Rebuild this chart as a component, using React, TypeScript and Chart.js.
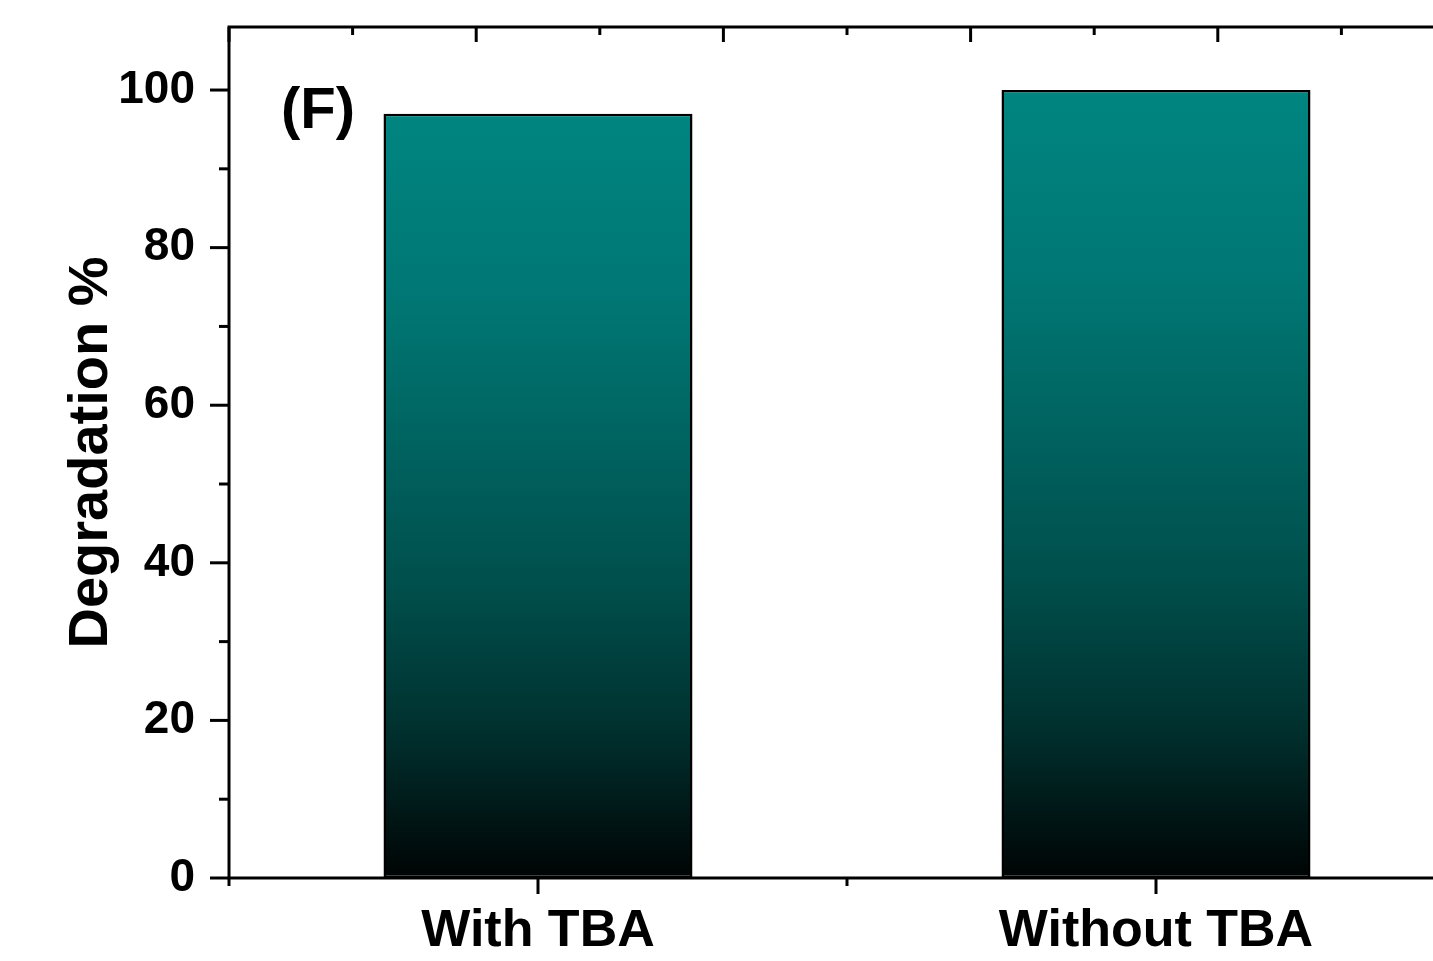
import React, { useEffect, useRef } from "react";
import { Chart, registerables } from "chart.js";

Chart.register(...registerables);

// ---- data ----
const CATEGORIES = ["With TBA", "Without TBA"];
const DEGRADATION = [97, 100];
const Y_TICKS = [0, 20, 40, 60, 80, 100];
const Y_MINOR_TICKS = [10, 30, 50, 70, 90];
const Y_MIN = 0;
const Y_MAX = 108;
// top (mirror) axis: 5 equal major intervals with one minor tick in each
const TOP_DIVISIONS = 5;
const PANEL_LABEL = "(F)";
const Y_TITLE = "Degradation %";

const FONT = "'Liberation Sans', Arial, Helvetica, sans-serif";

// teal-to-black vertical fill, stretched over each bar
const GRADIENT_STOPS: [number, string][] = [
  [0, "#008581"],
  [0.24, "#007774"],
  [0.62, "#004f4c"],
  [0.81, "#00302e"],
  [1, "#000404"],
];

const framePlugin = {
  id: "originFrame",
  afterDatasetsDraw(chart: any) {
    const { ctx, chartArea: a, scales } = chart;
    const y = scales.y;
    const x = scales.x;
    ctx.save();
    ctx.strokeStyle = "#000";
    ctx.lineWidth = 3;
    ctx.lineCap = "butt";

    const seg = (x0: number, y0: number, x1: number, y1: number) => {
      ctx.beginPath();
      ctx.moveTo(x0, y0);
      ctx.lineTo(x1, y1);
      ctx.stroke();
    };

    // box
    ctx.beginPath();
    ctx.rect(a.left, a.top, a.right - a.left, a.bottom - a.top);
    ctx.stroke();

    // left axis ticks (outward)
    Y_TICKS.forEach((v) => {
      const p = y.getPixelForValue(v);
      seg(a.left - 19, p, a.left, p);
    });
    Y_MINOR_TICKS.forEach((v) => {
      const p = y.getPixelForValue(v);
      seg(a.left - 10, p, a.left, p);
    });

    // bottom axis ticks (outward): majors at categories, minors at boundaries
    CATEGORIES.forEach((_, i) => {
      const p = x.getPixelForValue(i);
      seg(p, a.bottom, p, a.bottom + 16);
    });
    for (let i = 0; i <= CATEGORIES.length; i++) {
      const p = x.getPixelForValue(i - 0.5);
      seg(p, a.bottom, p, a.bottom + 8);
    }

    // top axis ticks (inward)
    for (let k = 0; k <= TOP_DIVISIONS; k++) {
      const p = x.getPixelForDecimal(k / TOP_DIVISIONS);
      seg(p, a.top, p, a.top + 15);
      if (k < TOP_DIVISIONS) {
        const m = x.getPixelForDecimal((k + 0.5) / TOP_DIVISIONS);
        seg(m, a.top, m, a.top + 8);
      }
    }

    // panel label
    ctx.fillStyle = "#000";
    ctx.font = `bold 58px ${FONT}`;
    ctx.textAlign = "left";
    ctx.textBaseline = "alphabetic";
    ctx.fillText(PANEL_LABEL, a.left + 52, a.top + 101);
    ctx.restore();
  },
};

export default function App() {
  const canvasRef = useRef<HTMLCanvasElement | null>(null);

  useEffect(() => {
    const canvas = canvasRef.current;
    if (!canvas) return;

    const chart = new Chart(canvas, {
      type: "bar",
      data: {
        labels: CATEGORIES,
        datasets: [
          {
            label: Y_TITLE,
            data: DEGRADATION,
            backgroundColor: (c: any) => {
              const ch = c.chart;
              if (!ch.chartArea || c.raw == null) return GRADIENT_STOPS[0][1];
              const ys = ch.scales.y;
              const top = ys.getPixelForValue(c.raw);
              const base = ys.getPixelForValue(0);
              const g = ch.ctx.createLinearGradient(0, top, 0, base);
              GRADIENT_STOPS.forEach(([o, col]) => g.addColorStop(o, col));
              return g;
            },
            borderColor: "#000",
            borderWidth: 2.5,
            borderSkipped: false,
            barPercentage: 1,
            categoryPercentage: 0.5,
          },
        ],
      },
      options: {
        responsive: false,
        animation: false,
        devicePixelRatio: 1,
        layout: { padding: { top: 27, right: 35, left: 0, bottom: 0 } },
        plugins: {
          legend: { display: false },
          tooltip: { enabled: false },
        },
        scales: {
          x: {
            type: "category",
            offset: true,
            grid: { display: false, drawTicks: false },
            border: { display: false },
            ticks: {
              color: "#000",
              padding: 22,
              maxRotation: 0,
              font: { family: FONT, size: 52, weight: "bold" },
            },
            afterFit: (s: any) => {
              s.height = 83;
              s.paddingLeft = 0;
              s.paddingRight = 0;
            },
          },
          y: {
            type: "linear",
            min: Y_MIN,
            max: Y_MAX,
            grid: { display: false, drawTicks: false },
            border: { display: false },
            ticks: {
              color: "#000",
              padding: 34,
              font: { family: FONT, size: 46, weight: "bold" },
            },
            afterBuildTicks: (s: any) => {
              s.ticks = Y_TICKS.map((v) => ({ value: v }));
            },
            afterFit: (s: any) => {
              s.width = 229;
              s.paddingTop = 0;
              s.paddingBottom = 0;
            },
            title: {
              display: true,
              text: Y_TITLE,
              color: "#000",
              padding: { top: 58, bottom: 0 },
              font: { family: FONT, size: 56, weight: "bold" },
            },
          },
        },
      },
      plugins: [framePlugin],
    });

    return () => chart.destroy();
  }, []);

  return (
    <div
      style={{
        position: "fixed",
        left: 0,
        top: 0,
        width: 1433,
        height: 961,
        overflow: "hidden",
        background: "#fff",
      }}
    >
      <canvas ref={canvasRef} width={1500} height={961} style={{ display: "block" }} />
    </div>
  );
}
